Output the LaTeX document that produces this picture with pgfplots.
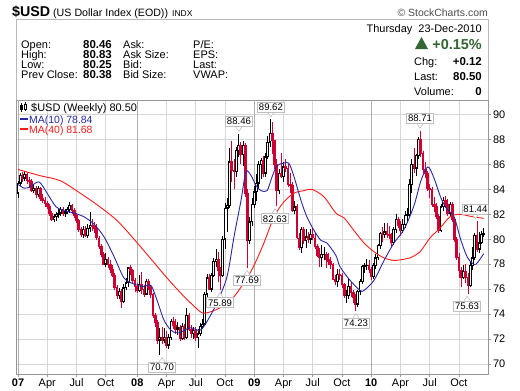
\documentclass[border=0pt]{standalone}
\usepackage{fontspec}
\setmainfont{Liberation Sans}
\usepackage{pgfplots}
\pgfplotsset{compat=1.18}
\usepackage{pgfplotstable}

\definecolor{barred}{RGB}{204,0,51}
\definecolor{maone}{RGB}{40,40,165}
\definecolor{matwo}{RGB}{255,25,25}
\definecolor{upgreen}{RGB}{51,102,51}
\definecolor{gridc}{RGB}{215,215,215}
\definecolor{yeargrid}{RGB}{175,175,175}
\definecolor{framec}{RGB}{150,150,150}

\newcommand{\fs}[1]{\fontsize{#1}{#1}\selectfont}

\pgfplotstableread{
w o h l c k
0 83.7 84.7 83.3 84.5 1
1 84.5 85.3 84.3 85.1 1
2 85.1 85.4 84.6 84.9 0
3 84.9 85.5 84.7 85.2 1
4 85.2 85.4 84.4 84.7 0
5 84.7 85.0 84.1 84.6 0
6 84.6 84.8 83.8 83.9 0
7 83.9 84.4 83.7 84.1 1
8 84.1 84.3 83.3 83.6 0
9 83.6 84.3 83.4 84.1 1
10 84.1 84.2 83.1 83.3 0
11 83.3 83.6 82.9 83.1 0
12 83.1 83.4 82.6 82.9 0
13 82.9 83.1 82.4 82.6 0
14 82.6 82.8 81.9 82.1 0
15 82.1 82.3 81.5 81.6 0
16 81.6 82.0 81.4 81.8 1
17 81.8 82.2 81.5 82.0 1
18 82.0 82.4 81.7 82.1 1
19 82.1 82.6 81.9 82.4 1
20 82.4 82.6 81.9 82.1 0
21 82.1 82.4 81.8 82.2 1
22 82.2 82.6 82.0 82.4 1
23 82.4 83.0 82.1 82.7 1
24 82.7 82.8 82.0 82.3 0
25 82.3 82.5 81.7 81.9 0
26 81.9 82.1 81.3 81.5 0
27 81.5 81.6 80.6 80.8 0
28 80.8 81.0 80.2 80.4 0
29 80.4 81.1 80.1 80.8 1
30 80.8 81.1 80.2 80.3 0
31 80.3 81.2 80.1 80.9 1
32 80.9 82.2 80.6 81.1 1
33 81.1 81.6 80.7 81.0 0
34 81.0 81.4 80.5 80.9 0
35 80.9 81.2 79.9 80.1 0
36 80.1 80.3 79.2 79.4 0
37 79.4 79.6 78.6 78.8 0
38 78.8 79.0 77.9 78.0 0
39 78.0 78.9 77.8 78.4 1
40 78.4 78.6 77.7 78.0 0
41 78.0 78.3 77.3 77.6 0
42 77.6 77.9 77.0 77.1 0
43 77.1 77.3 75.9 76.1 0
44 76.1 76.3 75.2 75.5 0
45 75.5 76.1 75.2 75.8 1
46 75.8 76.0 74.5 75.0 0
47 75.0 76.4 74.9 76.1 1
48 76.1 76.9 75.9 76.5 1
49 76.5 77.8 76.2 77.7 1
50 77.7 77.9 77.1 77.5 0
51 77.5 77.6 76.5 76.7 0
52 76.7 76.9 75.8 76.2 0
53 76.2 76.5 75.7 75.9 0
54 75.9 77.1 75.8 76.4 1
55 76.4 77.4 75.6 76.0 0
56 76.0 76.3 75.4 75.6 0
57 75.6 76.8 75.5 76.6 1
58 76.6 76.8 75.9 76.1 0
59 76.1 76.3 75.3 75.6 0
60 75.6 75.7 73.7 73.9 0
61 73.9 74.1 73.0 73.3 0
62 73.3 73.5 71.6 71.9 0
63 71.9 72.9 70.7 72.1 1
64 72.1 73.0 71.6 71.9 0
65 71.9 72.9 71.7 72.1 1
66 72.1 72.6 71.3 71.5 0
67 71.5 72.4 71.2 72.1 1
68 72.1 73.6 71.9 73.4 1
69 73.4 73.8 72.8 73.1 0
70 73.1 73.6 72.4 72.8 0
71 72.8 73.4 72.3 72.9 1
72 72.9 73.1 71.8 72.0 0
73 72.0 73.3 71.9 73.0 1
74 73.0 73.2 71.9 72.1 0
75 72.1 74.5 72.0 73.9 1
76 73.9 74.1 72.6 72.8 0
77 72.8 73.1 72.1 72.4 0
78 72.4 73.0 72.0 72.7 1
79 72.7 73.0 71.8 72.1 0
80 72.1 72.8 71.3 72.4 1
81 72.4 73.3 72.2 73.0 1
82 73.0 73.6 72.8 73.2 1
83 73.2 75.8 73.1 75.6 1
84 75.6 77.2 75.4 76.9 1
85 76.9 77.2 75.9 76.0 0
86 76.0 77.3 75.8 77.1 1
87 77.1 78.5 77.0 78.2 1
88 78.2 79.2 77.8 78.4 1
89 78.4 79.0 76.6 77.5 0
90 77.5 77.8 75.89 77.1 0
91 77.1 80.3 77.0 80.0 1
92 80.0 82.9 79.2 82.5 1
93 82.5 83.3 80.6 82.7 1
94 82.7 87.3 82.5 86.2 1
95 86.2 87.9 84.6 85.5 0
96 85.5 86.4 84.0 85.4 0
97 85.4 87.4 85.0 87.1 1
98 87.1 88.46 86.6 87.5 1
99 87.5 87.8 86.0 86.8 0
100 86.8 87.9 85.9 87.5 1
101 87.5 87.7 83.4 83.7 0
102 83.7 84.0 77.69 79.9 0
103 79.9 81.8 79.6 81.4 1
104 81.4 83.3 81.1 82.8 1
105 82.8 84.3 82.5 83.8 1
106 83.8 85.2 83.1 84.5 1
107 84.5 86.3 84.0 86.0 1
108 86.0 86.5 84.8 86.3 1
109 86.3 86.7 85.0 85.3 0
110 85.3 86.9 85.0 86.6 1
111 86.6 88.3 86.4 87.8 1
112 87.8 89.62 87.4 88.5 1
113 88.5 89.4 86.8 87.9 0
114 87.9 88.0 85.6 86.0 0
115 86.0 86.4 82.63 83.9 0
116 83.9 85.6 83.6 85.3 1
117 85.3 86.9 84.9 85.0 0
118 85.0 86.2 84.6 85.8 1
119 85.8 86.4 85.4 85.7 0
120 85.7 86.0 84.2 84.4 0
121 84.4 85.3 83.7 84.3 0
122 84.3 84.6 82.2 82.3 0
123 82.3 83.1 82.0 82.6 1
124 82.6 82.8 80.0 80.1 0
125 80.1 80.5 79.1 79.3 0
126 79.3 81.0 78.9 80.8 1
127 80.8 81.0 79.6 79.9 0
128 79.9 80.8 79.3 80.2 1
129 80.2 80.6 79.7 80.0 0
130 80.0 80.8 79.6 80.4 1
131 80.4 80.9 79.9 80.1 0
132 80.1 80.5 79.2 79.4 0
133 79.4 79.6 78.6 78.7 0
134 78.7 79.3 77.8 78.5 0
135 78.5 79.5 77.8 78.8 1
136 78.8 79.4 78.3 78.8 1
137 78.8 79.0 77.7 78.4 0
138 78.4 78.9 77.9 78.2 0
139 78.2 78.6 77.6 78.0 0
140 78.0 78.1 76.7 76.8 0
141 76.8 77.1 76.3 76.6 0
142 76.6 77.6 76.2 77.2 1
143 77.2 77.6 76.7 77.1 0
144 77.1 77.3 76.1 76.4 0
145 76.4 76.5 75.3 75.5 0
146 75.5 75.9 74.9 75.5 1
147 75.5 76.8 75.2 76.2 1
148 76.2 76.6 75.4 75.7 0
149 75.7 75.9 74.9 75.3 0
150 75.3 75.6 74.23 74.8 0
151 74.8 75.9 74.6 75.8 1
152 75.8 76.8 75.5 76.6 1
153 76.6 77.9 76.4 77.8 1
154 77.8 78.1 77.3 77.9 1
155 77.9 78.4 77.5 77.9 1
156 77.9 78.3 77.3 77.6 0
157 77.6 77.8 76.7 77.0 0
158 77.0 78.1 76.8 77.9 1
159 77.9 78.8 77.6 78.5 1
160 78.5 79.6 78.3 79.5 1
161 79.5 80.6 79.2 80.5 1
162 80.5 81.0 79.8 80.4 0
163 80.4 81.3 80.1 80.6 1
164 80.6 81.3 80.1 80.4 0
165 80.4 81.1 80.0 80.3 0
166 80.3 80.5 79.4 79.7 0
167 79.7 81.0 79.5 80.8 1
168 80.8 82.0 80.5 81.6 1
169 81.6 81.8 80.9 81.1 0
170 81.1 81.5 80.3 80.7 0
171 80.7 81.6 80.5 81.2 1
172 81.2 82.3 80.9 81.9 1
173 81.9 82.5 81.3 82.0 1
174 82.0 84.8 81.8 84.4 1
175 84.4 86.4 83.7 86.0 1
176 86.0 87.3 85.3 85.7 0
177 85.7 86.8 85.1 86.7 1
178 86.7 88.2 86.4 88.0 1
179 88.0 88.71 86.6 86.9 0
180 86.9 87.1 85.3 85.6 0
181 85.6 86.2 84.9 85.3 0
182 85.3 85.5 83.9 84.1 0
183 84.1 84.4 83.3 84.0 0
184 84.0 84.2 82.6 82.8 0
185 82.8 83.4 82.2 82.6 0
186 82.6 82.9 81.6 81.8 0
187 81.8 82.0 80.5 80.7 0
188 80.7 82.8 80.6 82.6 1
189 82.6 83.4 82.3 83.1 1
190 83.1 83.5 82.5 82.8 0
191 82.8 83.2 81.9 82.1 0
192 82.1 83.0 81.8 82.8 1
193 82.8 83.0 81.4 81.6 0
194 81.6 81.8 79.8 80.0 0
195 80.0 80.2 78.3 78.5 0
196 78.5 78.9 76.9 77.5 0
197 77.5 77.8 76.2 76.9 0
198 76.9 77.9 76.8 77.4 1
199 77.4 78.0 76.5 76.9 0
200 76.9 77.3 75.63 76.3 0
201 76.3 78.2 76.2 77.9 1
202 77.9 79.4 77.5 78.5 1
203 78.5 80.5 78.3 80.3 1
204 80.3 81.44 79.0 79.2 0
205 79.2 80.6 78.9 79.7 1
206 79.7 80.7 79.6 80.4 1
207 80.4 80.9 80.2 80.5 1
}\ohlc

% price label with a small pointer: above (hi) or below (lo) the point
\newcommand{\hilbl}[3]{%
  \draw[gray!50, fill=white, line width=0.6bp]
    ([xshift=-3.2bp,yshift=7bp]axis cs:#1,#2) -- ([yshift=2.5bp]axis cs:#1,#2) -- ([xshift=3.2bp,yshift=7bp]axis cs:#1,#2);
  \node[plbl, yshift=12.3bp] at (axis cs:#1,#2) {#3};}
\newcommand{\lolbl}[3]{%
  \draw[gray!50, fill=white, line width=0.6bp]
    ([xshift=-3.2bp,yshift=-7bp]axis cs:#1,#2) -- ([yshift=-2.5bp]axis cs:#1,#2) -- ([xshift=3.2bp,yshift=-7bp]axis cs:#1,#2);
  \node[plbl, yshift=-12.3bp] at (axis cs:#1,#2) {#3};}

\begin{document}
\begin{tikzpicture}[
  plbl/.style={rectangle, fill=white, draw=gray!50, line width=0.6bp,
     font=\fs{9.6}, inner xsep=1.4bp, inner ysep=1.6bp},
  lab/.style={anchor=base west, inner sep=0, font=\fs{11}},
  valb/.style={anchor=base east, inner sep=0, font=\bfseries\fs{11.5}},
]
\fill[white] (0,0) rectangle (520bp,-391bp);
\useasboundingbox (0,0) rectangle (520bp,-391bp);

% ---- header ----
\node[anchor=base west, inner sep=0, font=\bfseries\fs{14.3}] at (12bp,-16.5bp) {\$USD};
\node[anchor=base west, inner sep=0, font=\fs{10.7}] at (53bp,-16bp) {(US Dollar Index (EOD))};
\node[anchor=base west, inner sep=0, font=\fs{8.5}] at (172bp,-16bp) {INDX};
\node[anchor=base east, inner sep=0, font=\fs{10.5}, text=black!70] at (488bp,-16bp) {© StockCharts.com};
\draw[gray!55, line width=0.8bp] (16bp,-100bp) -- (16bp,-19bp) -- (488bp,-19bp) -- (488bp,-100bp);

\node[lab] at (21bp,-48bp) {Open:};
\node[lab] at (21bp,-58bp) {High:};
\node[lab] at (21bp,-68bp) {Low:};
\node[lab] at (21bp,-78.5bp) {Prev Close:};
\node[valb] at (112bp,-48bp) {80.46};
\node[valb] at (112bp,-58bp) {80.83};
\node[valb] at (112bp,-68bp) {80.25};
\node[valb] at (112bp,-78.5bp) {80.38};
\node[lab] at (123bp,-48bp) {Ask:};
\node[lab] at (123bp,-58bp) {Ask Size:};
\node[lab] at (123bp,-68bp) {Bid:};
\node[lab] at (123bp,-78.5bp) {Bid Size:};
\node[lab] at (193bp,-48bp) {P/E:};
\node[lab] at (193bp,-58bp) {EPS:};
\node[lab] at (193bp,-68bp) {Last:};
\node[lab] at (193bp,-78.5bp) {VWAP:};

\node[anchor=base east, inner sep=0, font=\fs{11}] at (482bp,-32bp) {Thursday\ \ 23-Dec-2010};
\fill[upgreen] (415bp,-49bp) -- (428bp,-49bp) -- (421.5bp,-37bp) -- cycle;
\node[anchor=base east, inner sep=0, font=\bfseries\fs{14.5}, text=upgreen] at (482bp,-49bp) {+0.15\%};
\node[lab] at (414bp,-65bp) {Chg:};
\node[valb] at (482bp,-65bp) {+0.12};
\node[lab] at (414bp,-80bp) {Last:};
\node[valb] at (482bp,-80bp) {80.50};
\node[lab] at (414bp,-95bp) {Volume:};
\node[valb] at (482bp,-95bp) {0};

% ---- chart ----
\begin{axis}[
  at={(16bp,-374bp)}, anchor=south west,
  width=472bp, height=274bp, scale only axis,
  xmin=-0.9, xmax=208.9, ymin=69.19, ymax=91.17,
  axis line style={framec, line width=0.8bp},
  tick style={framec, line width=0.7bp},
  major tick length=3bp, tick align=outside,
  xtick pos=left, ytick pos=right, yticklabel pos=right,
  xtick={13,26,39,66,79,92,118,131,144,170,183,196},
  xticklabels={Apr,Jul,Oct,Apr,Jul,Oct,Apr,Jul,Oct,Apr,Jul,Oct},
  extra x ticks={0,53,105,157},
  extra x tick labels={\textbf{07},\textbf{08},\textbf{09},\textbf{10}},
  extra x tick style={major grid style={yeargrid, line width=0.8bp}},
  ytick={70,72,...,90},
  grid=major, major grid style={gridc, line width=0.7bp},
  ticklabel style={font=\fs{11}},
  xticklabel style={yshift=2bp},
  yticklabel style={xshift=-1.5bp},
  /pgf/number format/assume math mode=true,
  colormap={updown}{color(0)=(barred) color(1)=(black)},
  point meta min=0, point meta max=1,
]
% wicks (high-low), red for down weeks, black for up weeks
\addplot[point meta=\thisrow{k},
  quiver={u=0, v={\thisrow{h}-\thisrow{l}},
    every arrow/.append style={-, draw=mapped color, line width=0.9bp}}]
  table[x=w, y=l]{\ohlc};
% bodies (open-close)
\addplot[point meta=\thisrow{k},
  quiver={u=0, v={abs(\thisrow{o}-\thisrow{c})+0.08},
    every arrow/.append style={-, draw=mapped color, line width=2.6bp}}]
  table[x=w, y expr={min(\thisrow{o},\thisrow{c})-0.04}]{\ohlc};
% hollow interior of up candles
\addplot[
  quiver={u=0, v={\thisrow{k}*max(abs(\thisrow{o}-\thisrow{c})-0.12,0)},
    every arrow/.append style={-, draw=white, line width=0.9bp}}]
  table[x=w, y expr={min(\thisrow{o},\thisrow{c})+0.06}]{\ohlc};

% MA(40)
\addplot[matwo, line width=0.9bp, smooth] coordinates {
(0,85.6) (9.8,85.1) (18.7,84.7) (27.6,83.7) (36.4,82.6) (44,81.5) (51.1,80.1)
(58.7,78.5) (66.2,76.9) (73.3,75.5) (80.9,74.2) (84,74.1) (89.8,74.5) (95.6,75.3)
(101.8,76.9) (104.9,77.9) (109.3,79.7) (113.8,81.8) (118.2,83.0) (122.7,83.7)
(127.1,83.9) (130.7,84.0) (136,83.4) (141.3,82.1) (145,81.7) (149.3,80.7)
(153.8,79.7) (158.2,79.0) (162.7,78.5) (167.1,78.3) (171.6,78.4) (174.2,78.5)
(178.7,79.0) (183.1,80.1) (187.6,80.9) (192,81.8) (196.4,82.0) (202.2,81.8) (207,81.68)};
% MA(10)
\addplot[maone, line width=0.9bp, smooth] coordinates {
(0,84.4) (2.7,84.1) (5.3,84.2) (9.3,84.6) (12.9,83.7) (16.9,82.6) (20.4,82.3)
(24.9,82.1) (29.3,81.8) (33.8,81.2) (38.2,80.2) (42.7,78.6) (47.1,76.9) (51.6,76.4)
(56,76.2) (59.1,76.3) (61.8,75.1) (64.9,73.5) (68,72.7) (70.2,72.5) (72,72.5)
(76.4,72.9) (80.9,72.7) (84,73.4) (88.4,74.9) (92.9,77.0) (96,80.2) (99.1,83.1)
(101.3,85.4) (103.6,85.1) (105.8,84.3) (108,83.9) (110.7,83.9) (112.9,85.0)
(115.1,85.9) (118.2,86.1) (120.4,86.1) (122.7,85.0) (125.8,83.1) (128.4,81.8)
(131.6,80.7) (134.7,79.9) (137.3,79.7) (141.3,78.7) (143.1,77.8) (147.6,76.7)
(152,75.9) (153.8,75.9) (158.2,76.7) (162.7,78.3) (167.1,79.7) (171.6,80.8)
(176,82.7) (179.1,84.7) (182.2,85.8) (184.9,84.9) (188,83.3) (190.7,82.4)
(193.8,81.8) (196.9,79.9) (199.6,78.6) (201.8,78.1) (203.6,78.0) (207,78.84)};

% price annotations
\hilbl{98.2}{88.46}{88.46}
\hilbl{112.4}{89.62}{89.62}
\hilbl{178.7}{88.71}{88.71}
\hilbl{203.3}{81.44}{81.44}
\lolbl{114.2}{82.63}{82.63}
\lolbl{101.8}{77.69}{77.69}
\lolbl{89.8}{75.89}{75.89}
\lolbl{64.0}{70.70}{70.70}
\lolbl{150.2}{74.23}{74.23}
\lolbl{199.6}{75.63}{75.63}
\end{axis}

% ---- legend ----
\draw[black, line width=0.8bp] (21.5bp,-103bp) -- (21.5bp,-112bp);
\fill[black] (20.3bp,-105bp) rectangle (22.7bp,-110bp);
\draw[black, line width=0.8bp] (25.5bp,-102bp) -- (25.5bp,-111bp);
\draw[black, line width=0.7bp, fill=white] (24.3bp,-104bp) rectangle (26.7bp,-109bp);
\node[anchor=base west, inner sep=0, font=\fs{11}] at (31bp,-111bp) {\$USD (Weekly) 80.50};
\draw[maone, line width=2bp] (20bp,-119bp) -- (28bp,-119bp);
\node[anchor=base west, inner sep=0, font=\fs{10.5}, text=maone] at (29bp,-123bp) {MA(10) 78.84};
\draw[matwo, line width=2bp] (20bp,-129bp) -- (28bp,-129bp);
\node[anchor=base west, inner sep=0, font=\fs{10.5}, text=matwo] at (29bp,-133bp) {MA(40) 81.68};
\end{tikzpicture}
\end{document}
